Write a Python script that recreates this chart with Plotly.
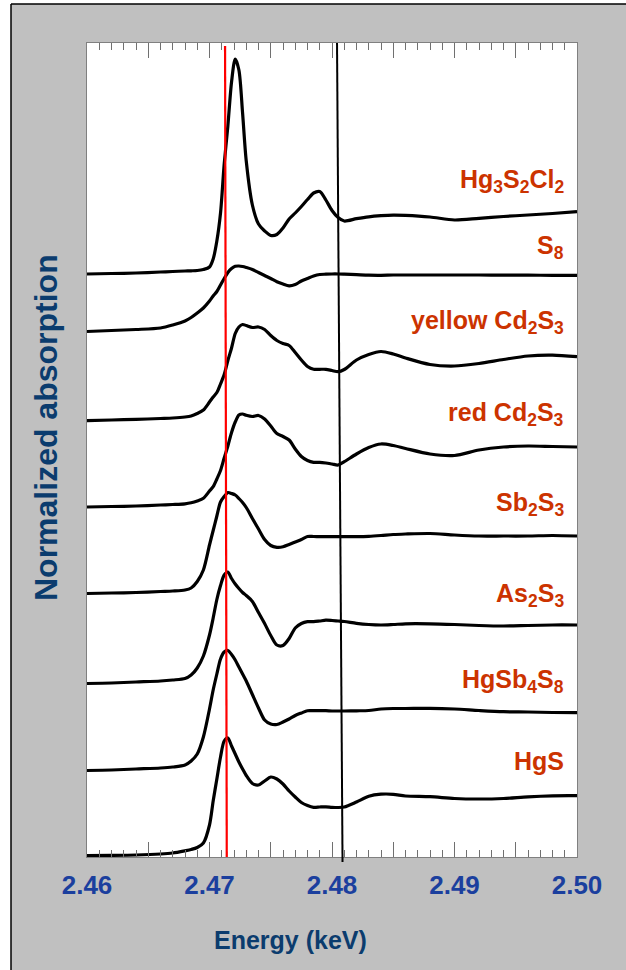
import plotly.graph_objects as go

# Energy grid (keV)
energy = [2.4600, 2.4620, 2.4640, 2.4660, 2.4670, 2.4680, 2.4685, 2.4690, 2.4695, 2.4700,
          2.4703, 2.4706, 2.4709, 2.4712, 2.4715, 2.4718, 2.4721, 2.4724, 2.4727, 2.4730,
          2.4735, 2.4740, 2.4745, 2.4750, 2.4755, 2.4760, 2.4765, 2.4770, 2.4775, 2.4780,
          2.4785, 2.4790, 2.4795, 2.4800, 2.4805, 2.4810, 2.4820, 2.4830, 2.4840, 2.4850,
          2.4860, 2.4880, 2.4900, 2.4920, 2.4940, 2.4960, 2.4980, 2.5000]

# Stacked normalized absorption (offset for display)
hg3s2cl2 = [5.83, 5.835, 5.84, 5.85, 5.855, 5.86, 5.862, 5.865, 5.875, 5.90,
            5.98, 6.16, 6.44, 6.93, 7.31, 7.75, 7.98, 7.87, 7.44, 6.96,
            6.52, 6.33, 6.26, 6.215, 6.225, 6.29, 6.38, 6.44, 6.505, 6.575,
            6.64, 6.655, 6.57, 6.465, 6.395, 6.36, 6.383, 6.402, 6.413, 6.419,
            6.416, 6.40, 6.37, 6.387, 6.405, 6.42, 6.435, 6.453]
s8 = [5.255, 5.265, 5.275, 5.29, 5.32, 5.36, 5.395, 5.44, 5.49, 5.56,
      5.61, 5.655, 5.72, 5.785, 5.845, 5.885, 5.907, 5.91, 5.905, 5.895,
      5.875, 5.845, 5.815, 5.785, 5.753, 5.73, 5.712, 5.725, 5.76, 5.785,
      5.81, 5.825, 5.828, 5.83, 5.83, 5.828, 5.823, 5.818, 5.817, 5.82,
      5.82, 5.82, 5.82, 5.82, 5.818, 5.818, 5.817, 5.817]
yellow_cd2s3 = [4.363, 4.37, 4.376, 4.385, 4.39, 4.40, 4.41, 4.435, 4.47, 4.55,
                4.60, 4.645, 4.73, 4.825, 4.965, 5.09, 5.235, 5.30, 5.325, 5.315,
                5.295, 5.30, 5.275, 5.215, 5.165, 5.135, 5.115, 5.045, 4.97, 4.905,
                4.877, 4.877, 4.877, 4.865, 4.853, 4.875, 4.97, 5.025, 5.055, 5.03,
                4.99, 4.925, 4.91, 4.935, 4.975, 5.01, 5.018, 5.003]
red_cd2s3 = [3.50, 3.505, 3.51, 3.52, 3.525, 3.532, 3.542, 3.56, 3.587, 3.66,
             3.703, 3.78, 3.865, 3.99, 4.11, 4.245, 4.35, 4.42, 4.43, 4.417,
             4.405, 4.415, 4.38, 4.31, 4.235, 4.205, 4.17, 4.08, 4.005, 3.965,
             3.947, 3.947, 3.94, 3.93, 3.92, 3.953, 4.03, 4.095, 4.13, 4.115,
             4.085, 4.03, 4.015, 4.07, 4.10, 4.11, 4.105, 4.10]
sb2s3 = [2.635, 2.64, 2.645, 2.655, 2.66, 2.67, 2.69, 2.755, 2.87, 3.12,
         3.265, 3.41, 3.55, 3.605, 3.645, 3.635, 3.62, 3.585, 3.545, 3.495,
         3.385, 3.28, 3.175, 3.115, 3.097, 3.102, 3.125, 3.15, 3.175, 3.205,
         3.205, 3.204, 3.204, 3.204, 3.204, 3.204, 3.204, 3.207, 3.215, 3.225,
         3.23, 3.235, 3.22, 3.21, 3.21, 3.21, 3.215, 3.21]
as2s3 = [1.735, 1.74, 1.75, 1.76, 1.77, 1.785, 1.82, 1.89, 2.01, 2.22,
         2.39, 2.575, 2.715, 2.82, 2.85, 2.785, 2.73, 2.685, 2.645, 2.615,
         2.555, 2.445, 2.335, 2.215, 2.12, 2.115, 2.185, 2.29, 2.335, 2.353,
         2.353, 2.36, 2.368, 2.365, 2.36, 2.355, 2.337, 2.325, 2.32, 2.325,
         2.332, 2.332, 2.325, 2.315, 2.31, 2.315, 2.32, 2.32]
hgsb4s8 = [0.865, 0.87, 0.88, 0.89, 0.90, 0.92, 0.96, 1.03, 1.20, 1.48,
           1.67, 1.83, 1.98, 2.05, 2.065, 2.025, 1.97, 1.90, 1.83, 1.76,
           1.625, 1.49, 1.37, 1.33, 1.325, 1.35, 1.38, 1.415, 1.44, 1.463,
           1.463, 1.463, 1.463, 1.46, 1.46, 1.46, 1.462, 1.465, 1.48, 1.485,
           1.485, 1.487, 1.48, 1.465, 1.453, 1.45, 1.445, 1.443]
hgs = [0.014, 0.016, 0.02, 0.03, 0.04, 0.062, 0.075, 0.095, 0.14, 0.32,
       0.56, 0.78, 1.00, 1.16, 1.19, 1.11, 1.03, 0.95, 0.88, 0.815,
       0.735, 0.72, 0.76, 0.80, 0.78, 0.73, 0.66, 0.60, 0.545, 0.515,
       0.497, 0.50, 0.502, 0.497, 0.495, 0.50, 0.55, 0.607, 0.628, 0.627,
       0.61, 0.603, 0.585, 0.58, 0.585, 0.602, 0.612, 0.613]

series = [hg3s2cl2, s8, yellow_cd2s3, red_cd2s3, sb2s3, as2s3, hgsb4s8, hgs]
labels = ["Hg<sub>3</sub>S<sub>2</sub>Cl<sub>2</sub>", "S<sub>8</sub>",
          "yellow Cd<sub>2</sub>S<sub>3</sub>", "red Cd<sub>2</sub>S<sub>3</sub>",
          "Sb<sub>2</sub>S<sub>3</sub>", "As<sub>2</sub>S<sub>3</sub>",
          "HgSb<sub>4</sub>S<sub>8</sub>", "HgS"]
label_y = [6.76, 6.10, 5.35, 4.43, 3.53, 2.62, 1.76, 0.96]

# reference energies (vertical lines)
red_line_e = [2.47127, 2.47141]
black_line_e = [2.48041, 2.48086]

x_tickvals = [2.46, 2.465, 2.47, 2.475, 2.48, 2.485, 2.49, 2.495, 2.50]
x_ticktext = ["2.46", "", "2.47", "", "2.48", "", "2.49", "", "2.50"]

FONT = "Liberation Sans, Arial, sans-serif"

fig = go.Figure()
for s in series:
    fig.add_trace(go.Scatter(x=energy, y=s, mode="lines",
                             line=dict(color="black", width=3.2, shape="spline", smoothing=0.8),
                             hoverinfo="skip"))

L, R, T, B = 87, 49, 43, 113
W, H = 626, 970
pw, ph = W - L - R, H - T - B
xl = (11 - L) / pw
yt = (H - B - 4) / ph

shapes = [
    dict(type="rect", xref="paper", yref="paper", x0=-0.5, x1=xl, y0=-0.5, y1=1.5,
         fillcolor="white", line=dict(width=0), layer="below"),
    dict(type="rect", xref="paper", yref="paper", x0=xl, x1=1.5, y0=yt, y1=1.5,
         fillcolor="white", line=dict(width=0), layer="below"),
    dict(type="line", xref="paper", yref="paper", x0=xl, x1=xl, y0=-0.5, y1=yt,
         line=dict(color="black", width=1.5)),
    dict(type="line", xref="paper", yref="paper", x0=xl, x1=1.5, y0=yt, y1=yt,
         line=dict(color="black", width=1.5)),
    dict(type="line", xref="x", yref="paper", x0=red_line_e[0], x1=red_line_e[1],
         y0=(H - B - 46) / ph, y1=0, line=dict(color="#ff0000", width=2.2)),
    dict(type="line", xref="x", yref="paper", x0=black_line_e[0], x1=black_line_e[1],
         y0=1, y1=-5 / ph, line=dict(color="black", width=2)),
]

annotations = []
for lab, ly in zip(labels, label_y):
    annotations.append(dict(text="<b>" + lab + "</b>", xref="paper", yref="y",
                            x=(566 - L) / pw, y=ly,
                            xanchor="right", yanchor="middle", showarrow=False,
                            font=dict(family=FONT, size=25, color="#cc3300")))
annotations.append(dict(text="<b>Normalized absorption</b>", xref="paper", yref="paper",
                        x=(46 - L) / pw, y=(H - B - 428) / ph, textangle=-90,
                        xanchor="center", yanchor="middle", showarrow=False,
                        font=dict(family=FONT, size=32, color="#0b3c6e")))
annotations.append(dict(text="<b>Energy (keV)</b>", xref="paper", yref="paper",
                        x=(290 - L) / pw, y=(H - B - 940) / ph,
                        xanchor="center", yanchor="middle", showarrow=False,
                        font=dict(family=FONT, size=25, color="#0b3c6e")))

fig.update_layout(
    width=W, height=H, margin=dict(l=L, r=R, t=T, b=B),
    paper_bgcolor="#c0c0c0", plot_bgcolor="white", showlegend=False,
    shapes=shapes, annotations=annotations,
    xaxis=dict(range=[2.46, 2.50], tickmode="array", tickvals=x_tickvals,
               ticktext=[("<b>" + t + "</b>") if t else "" for t in x_ticktext],
               ticks="inside", ticklen=15, tickwidth=1, tickcolor="#707070",
               minor=dict(tickmode="linear", tick0=2.46, dtick=0.001, ticks="inside",
                          ticklen=7, tickwidth=1, tickcolor="#707070", showgrid=False),
               showline=True, linecolor="#808080", linewidth=1, mirror="ticks",
               showgrid=False, zeroline=False, ticklabelstandoff=5,
               tickfont=dict(family=FONT, size=26, color="#1b3f9e")),
    yaxis=dict(range=[0, 8.14], showticklabels=False, ticks="", showline=True,
               linecolor="#808080", linewidth=1, mirror=True, showgrid=False, zeroline=False),
)

fig.write_html("out.html")
